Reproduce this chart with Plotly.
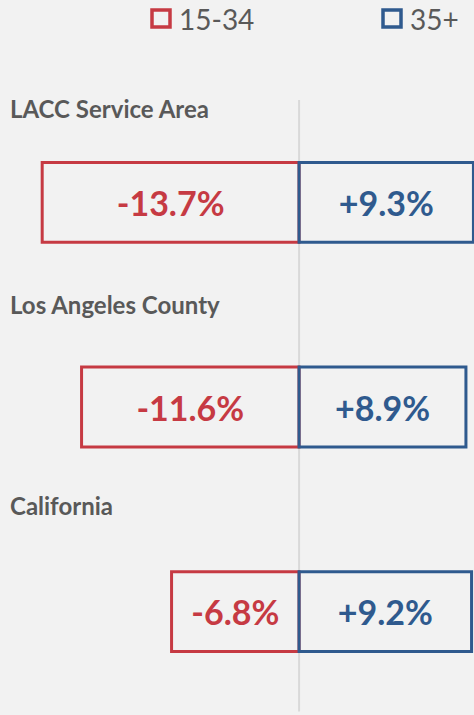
import plotly.graph_objects as go

regions = ["LACC Service Area", "Los Angeles County", "California"]
young_change = [-13.7, -11.6, -6.8]   # 15-34
older_change = [9.3, 8.9, 9.2]        # 35+
series_names = ["15-34", "35+"]

RED = "#c63a43"
BLUE = "#2f5a8e"
GRAY_TXT = "#595959"
BG = "#f2f2f2"
FONT = "Lato, Carlito, Calibri, sans-serif"

W, H = 474, 715
MT, MB = 100, 1
PLOT_H = H - MT - MB
LABEL_OFFSETS = [-0.46, -0.50, -0.52]  # label position above each bar (category units)


def px_x(px):
    return px / W


def px_y(py):
    return (H - MB - py) / PLOT_H


fig = go.Figure()
fig.add_trace(go.Bar(
    y=regions, x=young_change, orientation="h", name=series_names[0],
    width=0.39,
    marker=dict(color="rgba(0,0,0,0)", line=dict(color=RED, width=3)),
    text=[f"{v:.1f}%" for v in young_change],
    textposition="inside", insidetextanchor="middle", constraintext="none",
    textfont=dict(family=FONT, size=34, color=RED, weight="bold"),
    hoverinfo="skip", showlegend=False,
))
fig.add_trace(go.Bar(
    y=regions, x=older_change, orientation="h", name=series_names[1],
    width=0.39,
    marker=dict(color="rgba(0,0,0,0)", line=dict(color=BLUE, width=3)),
    text=[f"+{v:.1f}%" for v in older_change],
    textposition="inside", insidetextanchor="middle", constraintext="none",
    textfont=dict(family=FONT, size=34, color=BLUE, weight="bold"),
    hoverinfo="skip", showlegend=False,
))

# center divider line at zero
fig.add_shape(type="line", xref="x", yref="paper", x0=0, x1=0, y0=0.004, y1=1,
              line=dict(color="#d9d9d9", width=2), layer="below")

# region labels above each bar pair
for i, r in enumerate(regions):
    fig.add_annotation(text=f"<b>{r}</b>", xref="paper", yref="y", x=0, y=i + LABEL_OFFSETS[i],
                       xanchor="left", yanchor="middle", xshift=8, showarrow=False,
                       font=dict(family=FONT, size=24, color=GRAY_TXT))

# legend (custom, outlined squares)
legend_items = [(series_names[0], RED, 152), (series_names[1], BLUE, 383)]
for name, col, sx in legend_items:
    fig.add_shape(type="rect", xref="paper", yref="paper",
                  x0=px_x(sx), x1=px_x(sx + 18), y0=px_y(27), y1=px_y(10),
                  line=dict(color=col, width=3.5), fillcolor="rgba(0,0,0,0)")
    fig.add_annotation(text=name, xref="paper", yref="paper", x=px_x(sx + 25), y=px_y(19),
                       xanchor="left", yanchor="middle", showarrow=False,
                       font=dict(family=FONT, size=28, color=GRAY_TXT))

fig.update_layout(
    width=W, height=H,
    margin=dict(l=0, r=0, t=MT, b=MB, pad=0, autoexpand=False),
    paper_bgcolor=BG, plot_bgcolor=BG,
    barmode="overlay",
    showlegend=False,
    xaxis=dict(range=[-15.95, 9.33], visible=False, fixedrange=True),
    yaxis=dict(type="category", categoryorder="array", categoryarray=regions,
               autorange=False, range=[2.5, -0.5], visible=False, fixedrange=True),
)

fig.write_html("out.html", config={"displayModeBar": False},
               post_script="document.body.style.margin='0';")
